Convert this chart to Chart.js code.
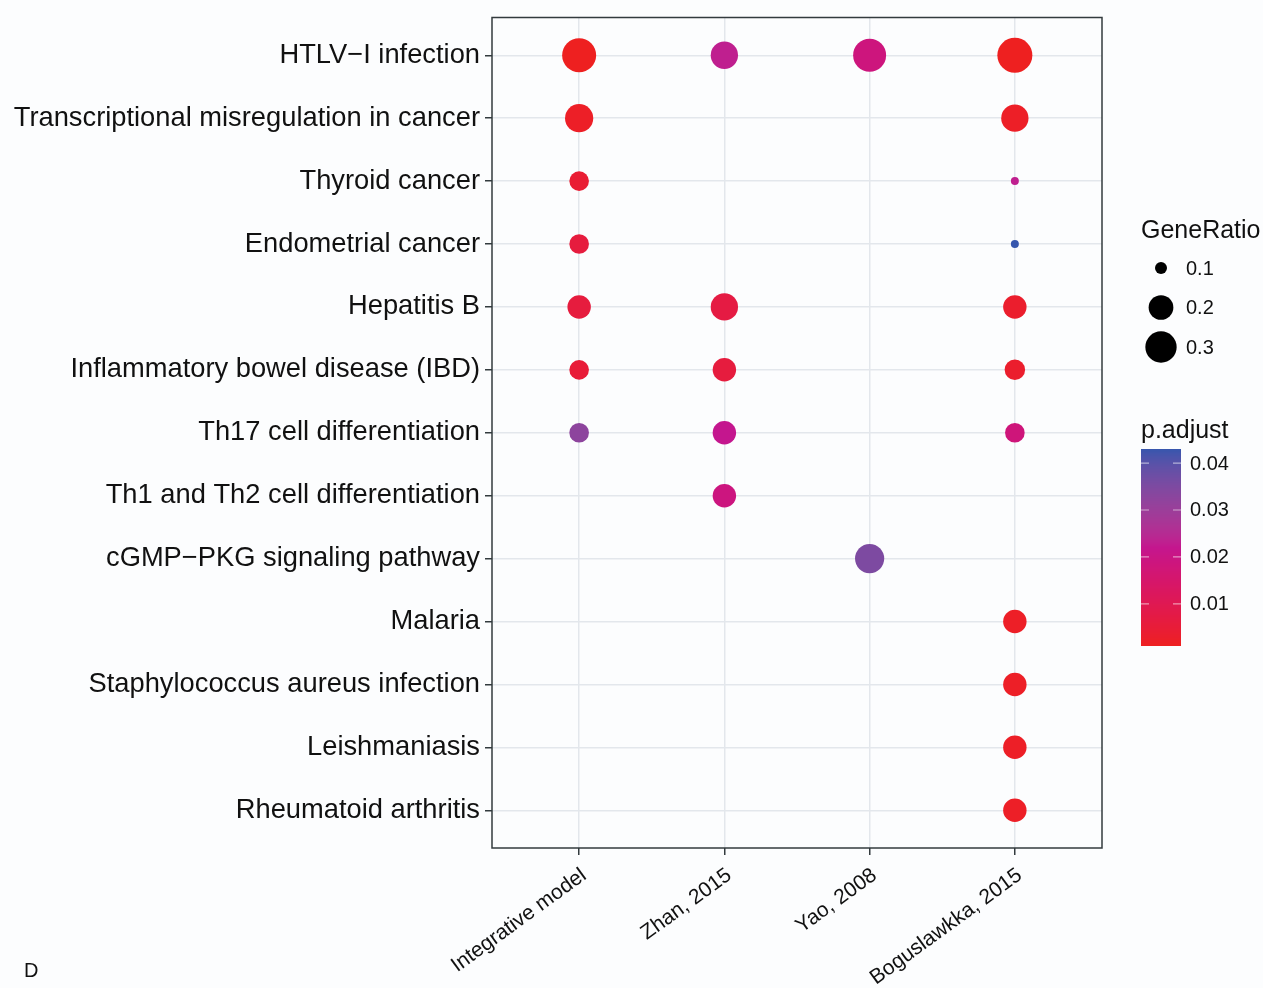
<!DOCTYPE html>
<html>
<head>
<meta charset="utf-8">
<title>KEGG enrichment dot plot</title>
<script src="https://cdn.jsdelivr.net/npm/chart.js@4.4.1/dist/chart.umd.min.js"></script>
<style>
  html, body { margin: 0; padding: 0; background: #fcfdfe; }
  #wrap { position: relative; width: 1263px; height: 988px; }
</style>
</head>
<body>
<div id="wrap"><canvas id="dotplot" width="1263" height="988"></canvas></div>
<script>
// pathways (rows, top to bottom) and studies (columns)
const pathways = [
    'HTLV\u2212I infection',
    'Transcriptional misregulation in cancer',
    'Thyroid cancer',
    'Endometrial cancer',
    'Hepatitis B',
    'Inflammatory bowel disease (IBD)',
    'Th17 cell differentiation',
    'Th1 and Th2 cell differentiation',
    'cGMP\u2212PKG signaling pathway',
    'Malaria',
    'Staphylococcus aureus infection',
    'Leishmaniasis',
    'Rheumatoid arthritis'
];
const studies = ['Integrative model', 'Zhan, 2015', 'Yao, 2008', 'Boguslawkka, 2015'];

// GeneRatio per study (null = pathway not enriched)
const ratioIntegrative = [0.35, 0.249, 0.145, 0.145, 0.184, 0.145, 0.145, null, null, null, null, null, null];
const ratioZhan        = [0.235, null, null, null, 0.235, 0.184, 0.184, 0.184, null, null, null, null, null];
const ratioYao         = [0.33, null, null, null, null, null, null, null, 0.264, null, null, null, null];
const ratioBoguslawkka = [0.37, 0.235, 0.094, 0.094, 0.184, 0.153, 0.145, null, null, 0.184, 0.184, 0.184, 0.184];

// adjusted p values per study
const padjIntegrative = [0.001, 0.002, 0.004, 0.006, 0.006, 0.005, 0.0325, null, null, null, null, null, null];
const padjZhan        = [0.023, null, null, null, 0.007, 0.006, 0.022, 0.019, null, null, null, null, null];
const padjYao         = [0.0186, null, null, null, null, null, null, null, 0.035, null, null, null, null];
const padjBoguslawkka = [0.001, 0.002, 0.023, 0.043, 0.003, 0.003, 0.018, null, null, 0.002, 0.002, 0.002, 0.002];

const sizeBreaks = [0.1, 0.2, 0.3];
const colorBreaks = [0.01, 0.02, 0.03, 0.04];

const columns = [
    { ratio: ratioIntegrative, padj: padjIntegrative },
    { ratio: ratioZhan, padj: padjZhan },
    { ratio: ratioYao, padj: padjYao },
    { ratio: ratioBoguslawkka, padj: padjBoguslawkka }
];

const points = [];
columns.forEach((col, xi) => {
    col.ratio.forEach((r, yi) => {
        if (r !== null) points.push({ x: xi, y: yi, ratio: r, padj: col.padj[yi] });
    });
});

const allRatios = points.map(p => p.ratio);
const allPadj = points.map(p => p.padj);
const ratioMin = Math.min(...allRatios), ratioMax = Math.max(...allRatios);
const padjMin = Math.min(...allPadj), padjMax = Math.max(...allPadj);

// area scale like ggplot: diameter grows with sqrt of the rescaled value
function diameter(v) {
    const t = Math.max(0, (v - ratioMin) / (ratioMax - ratioMin));
    return 8 + 27 * Math.sqrt(t);
}

// ---- colour scale, interpolated in Lab ----
function toLinear(c) { c /= 255; return c <= 0.04045 ? c / 12.92 : Math.pow((c + 0.055) / 1.055, 2.4); }
function fromLinear(c) {
    c = c <= 0.0031308 ? 12.92 * c : 1.055 * Math.pow(c, 1 / 2.4) - 0.055;
    return Math.round(Math.max(0, Math.min(1, c)) * 255);
}
function hexToLab(hex) {
    const r = toLinear(parseInt(hex.slice(1, 3), 16));
    const g = toLinear(parseInt(hex.slice(3, 5), 16));
    const b = toLinear(parseInt(hex.slice(5, 7), 16));
    const X = (0.4124 * r + 0.3576 * g + 0.1805 * b) / 0.95047;
    const Y = (0.2126 * r + 0.7152 * g + 0.0722 * b);
    const Z = (0.0193 * r + 0.1192 * g + 0.9505 * b) / 1.08883;
    const f = t => t > 0.008856 ? Math.cbrt(t) : 7.787 * t + 16 / 116;
    const fx = f(X), fy = f(Y), fz = f(Z);
    return [116 * fy - 16, 500 * (fx - fy), 200 * (fy - fz)];
}
function labToRgb(L, a, bb) {
    const fy = (L + 16) / 116, fx = fy + a / 500, fz = fy - bb / 200;
    const inv = t => t * t * t > 0.008856 ? t * t * t : (t - 16 / 116) / 7.787;
    const X = 0.95047 * inv(fx), Y = inv(fy), Z = 1.08883 * inv(fz);
    const r = 3.2406 * X - 1.5372 * Y - 0.4986 * Z;
    const g = -0.9689 * X + 1.8758 * Y + 0.0415 * Z;
    const b = 0.0557 * X - 0.2040 * Y + 1.0570 * Z;
    return 'rgb(' + fromLinear(r) + ',' + fromLinear(g) + ',' + fromLinear(b) + ')';
}
const colorStops = [hexToLab('#ee2020'), hexToLab('#c4168e'), hexToLab('#3656ad')];

function pColor(v) {
    let t = (v - padjMin) / (padjMax - padjMin);
    t = Math.max(0, Math.min(1, t)) * (colorStops.length - 1);
    const i = Math.min(Math.floor(t), colorStops.length - 2);
    const f = t - i;
    const a = colorStops[i], b = colorStops[i + 1];
    return labToRgb(a[0] + (b[0] - a[0]) * f, a[1] + (b[1] - a[1]) * f, a[2] + (b[2] - a[2]) * f);
}

const FONT = '"Liberation Sans", Arial, sans-serif';
const TEXT = '#111111';

// panel frame, size legend, colourbar, panel letter
const sideLegends = {
    id: 'sideLegends',
    afterDraw(chart) {
        const ctx = chart.ctx;
        const area = chart.chartArea;
        ctx.save();

        ctx.strokeStyle = '#333b3e';
        ctx.lineWidth = 1.5;
        ctx.strokeRect(area.left, area.top, area.right - area.left, area.bottom - area.top);

        ctx.fillStyle = TEXT;
        ctx.textAlign = 'left';
        ctx.textBaseline = 'alphabetic';
        ctx.font = '25px ' + FONT;
        ctx.fillText('GeneRatio', 1141, 238);

        ctx.font = '20px ' + FONT;
        ctx.textBaseline = 'middle';
        sizeBreaks.forEach((v, i) => {
            const cy = 268 + i * 39.5;
            ctx.fillStyle = '#000';
            ctx.beginPath();
            ctx.arc(1161, cy, diameter(v) / 2, 0, Math.PI * 2);
            ctx.fill();
            ctx.fillStyle = TEXT;
            ctx.fillText(v.toFixed(1), 1186, cy + 1);
        });

        ctx.textBaseline = 'alphabetic';
        ctx.font = '25px ' + FONT;
        ctx.fillText('p.adjust', 1141, 438);

        // colourbar
        const barX = 1141, barW = 40, barTop = 449, barH = 197;
        for (let k = 0; k < barH; k++) {
            const v = padjMax - (k + 0.5) / barH * (padjMax - padjMin);
            ctx.fillStyle = pColor(v);
            ctx.fillRect(barX, barTop + k, barW, 1);
        }
        ctx.font = '20px ' + FONT;
        ctx.textBaseline = 'middle';
        colorBreaks.forEach(v => {
            const y = barTop + (padjMax - v) / (padjMax - padjMin) * barH;
            ctx.strokeStyle = 'rgba(255,255,255,0.55)';
            ctx.lineWidth = 1.2;
            ctx.beginPath();
            ctx.moveTo(barX, y); ctx.lineTo(barX + 8, y);
            ctx.moveTo(barX + barW - 8, y); ctx.lineTo(barX + barW, y);
            ctx.stroke();
            ctx.fillStyle = TEXT;
            ctx.fillText(v.toFixed(2), 1190, y + 1);
        });

        ctx.font = '20px ' + FONT;
        ctx.textBaseline = 'alphabetic';
        ctx.fillText('D', 24, 977);
        ctx.restore();
    }
};

new Chart(document.getElementById('dotplot'), {
    type: 'scatter',
    data: {
        datasets: [{
            data: points,
            pointRadius: c => diameter(c.raw.ratio) / 2,
            pointHoverRadius: c => diameter(c.raw.ratio) / 2,
            pointBackgroundColor: c => pColor(c.raw.padj),
            pointBorderWidth: 0,
            borderWidth: 0
        }]
    },
    options: {
        responsive: false,
        animation: false,
        events: [],
        layout: { padding: { left: 0, top: 16, right: 161, bottom: 0 } },
        plugins: { legend: { display: false }, tooltip: { enabled: false } },
        scales: {
            x: {
                type: 'linear',
                min: -0.6,
                max: 3.6,
                afterBuildTicks: axis => { axis.ticks = studies.map((_, i) => ({ value: i })); },
                afterFit: axis => { axis.height = 140; },
                ticks: {
                    callback: v => studies[v],
                    autoSkip: false,
                    minRotation: 36,
                    maxRotation: 36,
                    padding: 8,
                    labelOffset: 5,
                    color: TEXT,
                    font: { size: 21, family: FONT }
                },
                grid: { color: '#e3e7ec', lineWidth: 1.5, tickLength: 7, tickColor: '#333b3e', tickWidth: 1.5 },
                border: { display: false }
            },
            y: {
                type: 'linear',
                reverse: true,
                min: -0.6,
                max: 12.6,
                afterBuildTicks: axis => { axis.ticks = pathways.map((_, i) => ({ value: i })); },
                afterFit: axis => { axis.width = 492; },
                ticks: {
                    callback: v => pathways[v],
                    padding: 5,
                    color: TEXT,
                    font: { size: 27.3, family: FONT, lineHeight: 0.8 }
                },
                grid: { color: '#e3e7ec', lineWidth: 1.5, tickLength: 7, tickColor: '#333b3e', tickWidth: 1.5 },
                border: { display: false }
            }
        }
    },
    plugins: [sideLegends]
});
</script>
</body>
</html>
